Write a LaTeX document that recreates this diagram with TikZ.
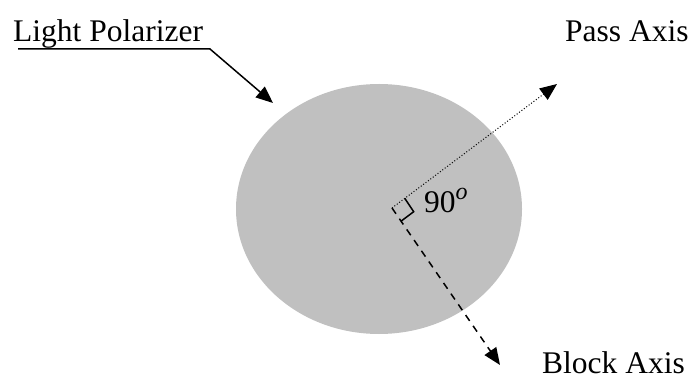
\documentclass[tikz,border=0pt]{standalone}
\usepackage{fontspec}
\setmainfont{Liberation Serif}
\usetikzlibrary{arrows.meta,shapes.geometric}
\definecolor{diskgray}{HTML}{C0C0C0}
\begin{document}
\begin{tikzpicture}[x=1pt,y=-1pt,
  lbl/.style={inner sep=0pt,anchor=base west,font=\fontsize{31.5}{36}\selectfont},
  tip/.style={-{Triangle[length=17pt,width=14pt]}},
  anglemark/.style={line width=1.5pt}]
\useasboundingbox (0,0) rectangle (693,379);
\node[ellipse,fill=diskgray,draw=none,minimum width=286pt,minimum height=250pt,inner sep=0pt] (disk) at (379,209) {};
\coordinate (O) at (392,208);
\coordinate (passtip) at (557,84);
\coordinate (blocktip) at (500,365);
\draw[tip,line width=1pt,dotted] (O) -- (passtip);
\draw[tip,line width=1.5pt,dash pattern=on 7pt off 6pt] (O) -- (blocktip);
\coordinate (ma) at (404.8,198.4);
\coordinate (mc) at (413.7,211.7);
\coordinate (mb) at (400.9,221.3);
\draw[anglemark] (ma) -- (mc) -- (mb);
\node[lbl] (ang) at (424,213) {90\raisebox{0.9ex}{\fontsize{24}{26}\selectfont\textit{o}}};
\node[lbl] (lp) at (13,42) {Light Polarizer};
\node[lbl] (pa) at (565,42) {Pass Axis};
\node[lbl] (ba) at (542,373) {Block Axis};
\coordinate (u0) at (18,49);
\coordinate (u1) at (210,49);
\coordinate (lptip) at (273,103);
\draw[tip,line width=1.5pt] (u0) -- (u1) -- (lptip);
\end{tikzpicture}
\end{document}
